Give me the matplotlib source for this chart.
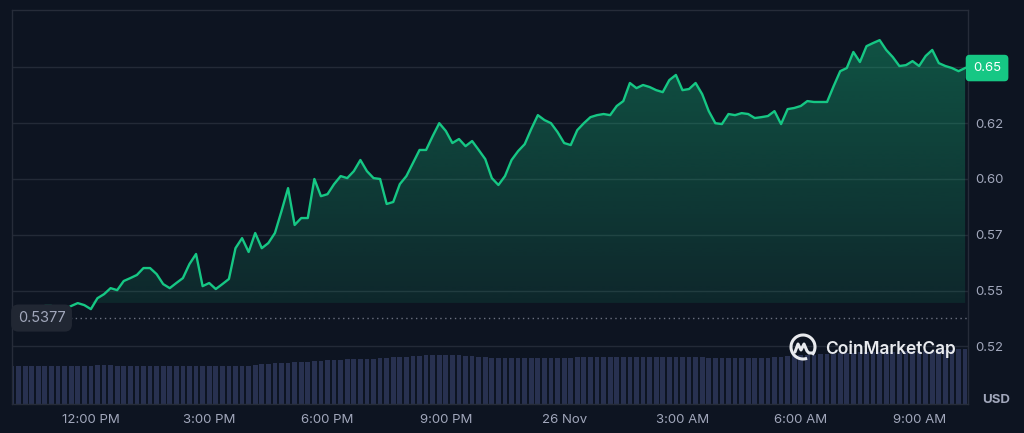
import numpy as np
import pandas as pd
import matplotlib
matplotlib.use('Agg')
import matplotlib.pyplot as plt
import matplotlib.dates as mdates
import matplotlib.transforms as mtransforms
from matplotlib.patches import Polygon, Arc

plt.rcParams['font.family'] = ['Inter', 'DejaVu Sans']

# Colours
BG = '#0d1421'
GREEN = '#16c784'
GRID = '#232a37'
TEXT = '#a1a7bb'
VOL = '#283150'

# Data (10-minute samples)
times = pd.date_range('2024-11-25 10:00', periods=146, freq='10min')
prices = [
    0.5399, 0.5408, 0.5408, 0.5404, 0.5413, 0.5431, 0.5431, 0.5417, 0.5417, 0.5431,
    0.5444, 0.5435, 0.5417, 0.5466, 0.5484, 0.5511, 0.5502, 0.5543, 0.5556, 0.5570,
    0.5601, 0.5601, 0.5574, 0.5529, 0.5511, 0.5534, 0.5556, 0.5619, 0.5664, 0.5520,
    0.5534, 0.5507, 0.5529, 0.5552, 0.5690, 0.5735, 0.5673, 0.5758, 0.5690, 0.5713,
    0.5758, 0.5856, 0.5959, 0.5794, 0.5825, 0.5825, 0.6000, 0.5923, 0.5932, 0.5977,
    0.6013, 0.6004, 0.6035, 0.6085, 0.6035, 0.6004, 0.6000, 0.5888, 0.5897, 0.5977,
    0.6013, 0.6071, 0.6130, 0.6130, 0.6192, 0.6250, 0.6215, 0.6161, 0.6179, 0.6147,
    0.6170, 0.6130, 0.6089, 0.6004, 0.5973, 0.6013, 0.6085, 0.6125, 0.6156, 0.6224,
    0.6286, 0.6264, 0.6250, 0.6210, 0.6161, 0.6152, 0.6219, 0.6250, 0.6277, 0.6286,
    0.6291, 0.6286, 0.6327, 0.6349, 0.6430, 0.6407, 0.6421, 0.6412, 0.6398, 0.6389,
    0.6443, 0.6466, 0.6398, 0.6403, 0.6430, 0.6380, 0.6304, 0.6250, 0.6246, 0.6291,
    0.6286, 0.6295, 0.6291, 0.6273, 0.6277, 0.6282, 0.6304, 0.6246, 0.6313, 0.6318,
    0.6327, 0.6349, 0.6345, 0.6345, 0.6345, 0.6416, 0.6483, 0.6497, 0.6569, 0.6524,
    0.6595, 0.6609, 0.6622, 0.6578, 0.6546, 0.6506, 0.6510, 0.6528, 0.6506, 0.6551,
    0.6578, 0.6519, 0.6506, 0.6497, 0.6483, 0.6497,
]
volumes = [
    38, 38, 38, 38, 38, 38, 38, 38, 38, 38, 38, 38, 38,
    39, 39, 39, 38,
    38, 38, 38, 38, 38, 38, 38, 38, 38, 38, 38, 38, 38, 38, 38, 38, 38, 38, 38, 38,
    39, 40, 40, 41, 41, 41, 42, 42, 42,
    43, 43, 44, 44, 44, 45, 45, 45, 45, 45,
    46, 46, 47, 47, 47, 48, 48,
    49, 49, 49, 49, 49, 49, 48, 48,
    47, 47, 46, 46, 46, 46, 46, 46, 46, 46, 46, 46, 46, 46, 46, 47, 47, 47, 47, 47,
    47, 47, 47, 47, 47, 47, 47, 47, 47, 47, 47, 47, 47, 47, 47,
    46, 46, 46, 46, 46, 46, 46, 46, 46, 46, 47, 47,
    48, 49, 49, 49, 49, 50, 50, 50,
    51, 51, 51, 52, 52, 52, 52, 52, 52, 52, 53, 53, 53, 53, 53, 54, 54, 54, 55, 55,
]
open_price = 0.5377
fill_floor = 0.5445
y_ticks = [0.525, 0.55, 0.575, 0.60, 0.625, 0.65]
y_tick_labels = ['0.52', '0.55', '0.57', '0.60', '0.62', '']
x_tick_times = ['2024-11-25 12:00', '2024-11-25 15:00', '2024-11-25 18:00',
                '2024-11-25 21:00', '2024-11-26 00:00', '2024-11-26 03:00',
                '2024-11-26 06:00', '2024-11-26 09:00']
x_tick_labels = ['12:00 PM', '3:00 PM', '6:00 PM', '9:00 PM', '26 Nov',
                 '3:00 AM', '6:00 AM', '9:00 AM']

W, H = 1024, 433
fig = plt.figure(figsize=(W / 100, H / 100), dpi=100, facecolor=BG)

left, right, top, bottom = 12, 968, 10, 404
ax_vol = fig.add_axes([left / W, 1 - bottom / H, (right - left) / W, 58 / H])
ax = fig.add_axes([left / W, 1 - bottom / H, (right - left) / W, (bottom - top) / H])
ax_vol.set_zorder(0)
ax.set_zorder(1)
ax.patch.set_visible(False)
ax_vol.set_facecolor(BG)

x = mdates.date2num(times)
x0 = x[0]
x1 = x0 + 24.24 / 24
p = np.array(prices)

# volume
ax_vol.bar(x, volumes, width=(10 / 1440) * 0.72, color=VOL, align='center')
ax_vol.set_xlim(x0, x1)
ax_vol.set_ylim(0, 58)
ax_vol.axis('off')

# price
ymin, ymax = 0.4992, 0.6757
ax.set_xlim(x0, x1)
ax.set_ylim(ymin, ymax)

for yt in y_ticks:
    ax.axhline(yt, color=GRID, lw=1, zorder=1)

# gradient fill under the line
top_vals = np.maximum(p, fill_floor)
poly_pts = np.column_stack([np.r_[x, x[::-1]], np.r_[top_vals, np.full(len(x), fill_floor)]])
clip = Polygon(poly_pts, closed=True, facecolor='none', edgecolor='none')
ax.add_patch(clip)
n = 256
alpha = np.linspace(0.38, 0.11, n)
grad = np.zeros((n, 1, 4))
grad[:, 0, 0] = 22 / 255
grad[:, 0, 1] = 199 / 255
grad[:, 0, 2] = 132 / 255
grad[:, 0, 3] = alpha
im = ax.imshow(grad, extent=[x0, x1, fill_floor, ymax], aspect='auto',
               origin='upper', zorder=2, interpolation='bilinear')
im.set_clip_path(clip)

ax.plot(x, p, color=GREEN, lw=1.7, zorder=4, solid_joinstyle='round')

# open price dotted line and label
ax.axhline(open_price, color='#6b7080', lw=1, ls=(0, (1, 2.5)), zorder=3)
ax.text(x0 + 0.006, open_price, f'{open_price:.4f}', color=TEXT, fontsize=10.5,
        va='center', ha='left', zorder=6,
        bbox=dict(boxstyle='round,pad=0.45,rounding_size=0.5', facecolor='#212733',
                  edgecolor='none'))

# axes styling
for s in ax.spines.values():
    s.set_color('#262c39')
    s.set_linewidth(1)
ax.yaxis.tick_right()
ax.set_yticks(y_ticks)
ax.set_yticklabels(y_tick_labels)
ax.tick_params(axis='y', length=0, pad=5, labelsize=9.5, labelcolor=TEXT)
ax.set_xticks(mdates.date2num(pd.to_datetime(x_tick_times)))
ax.set_xticklabels(x_tick_labels)
ax.tick_params(axis='x', length=0, pad=7, labelsize=9.5, labelcolor=TEXT)

# current price badge
badge_tf = mtransforms.blended_transform_factory(ax.transAxes, ax.transData)
ax.text(1.0 + 5 / (right - left), p[-1], f'{p[-1]:.2f}', transform=badge_tf,
        color='white', fontsize=9.5, va='center', ha='left', zorder=7, clip_on=False,
        bbox=dict(boxstyle='round,pad=0.55,rounding_size=0.3', facecolor=GREEN, edgecolor='none'))

# USD label
fig.text(996 / W, 1 - 400 / H, 'USD', color=TEXT, fontsize=9.5, fontweight='bold',
         ha='center', va='center')

# watermark
ident = mtransforms.IdentityTransform()
cx, cy, r = 803, H - 347, 12
fig.patches.append(Arc((cx, cy), 2 * r, 2 * r, theta1=-40, theta2=290, transform=ident,
                       color='#e8eaee', lw=2.2, figure=fig))
mx = np.array([-8, -5, -2, 1, 4, 6, 10])
my = np.array([-5, 3, -3, 3, -4, -6, -6])
fig.lines.append(plt.Line2D(cx + mx, cy + my, transform=ident, color='#e8eaee', lw=2.2,
                            solid_joinstyle='round', solid_capstyle='round', figure=fig))
fig.text(825 / W, 1 - 349 / H, 'CoinMarketCap', color='#e8eaee', fontsize=12.5,
         fontweight='semibold', ha='left', va='center')

fig.savefig('out.png', dpi=100, facecolor=BG)
